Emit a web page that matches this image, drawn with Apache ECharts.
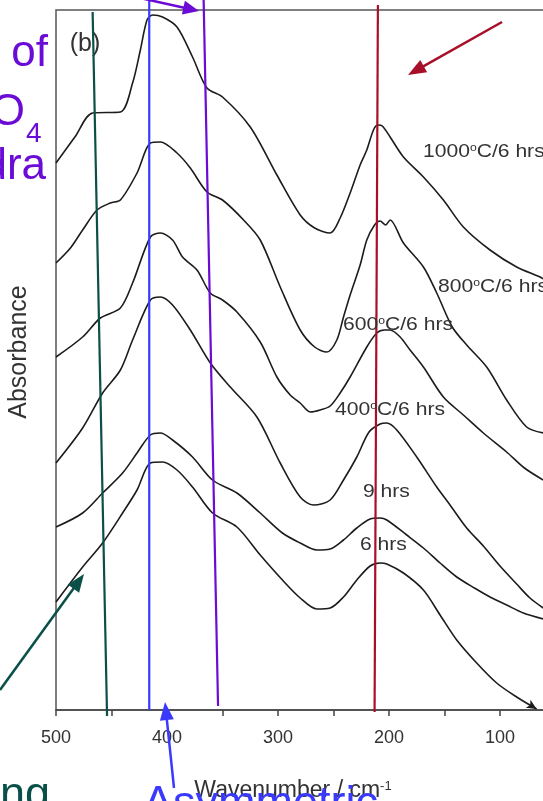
<!DOCTYPE html>
<html><head><meta charset="utf-8">
<script src="https://cdn.jsdelivr.net/npm/echarts@6/dist/echarts.min.js"></script>
<style>html,body{margin:0;padding:0;background:#fff}#c{width:543px;height:801px}</style>
</head><body><div id="c"></div>
<script>
// x ticks
const xTicks = [500, 400, 300, 200, 100];
// series (wavenumber / cm-1, absorbance in arbitrary offset units)
const names = ['1000°C/6 hrs', '800°C/6 hrs', '600°C/6 hrs', '400°C/6 hrs', '9 hrs', '6 hrs'];
const wn1 = [500,483,467,442,431,424,418,413,404,391,377,364,350,325,301,280,267,253,244,235,226,220,214,210,206,199,187,169,151,133,109,85,64,59];
const ab1 = [547,573,597,598,627,660,690,695,693,683,653,622,613,583,535,495,482,477,492,517,545,560,580,585,584,573,553,533,510,483,460,443,433,430];
const wn2 = [500,487,476,463,451,442,427,415,406,391,379,364,350,331,316,298,280,267,256,247,241,235,226,220,213,208,203,199,187,169,157,143,130,112,94,76,61];
const ab2 = [447,462,480,500,507,510,537,567,568,557,542,518,510,490,470,423,380,363,358,370,393,415,445,470,485,489,485,490,467,443,417,383,365,343,310,283,277];
const wn3 = [500,476,460,442,431,415,406,395,386,373,361,350,337,316,301,289,280,271,262,253,244,235,220,211,204,199,190,181,169,151,133,115,94,78,61];
const ab3 = [353,373,392,402,427,473,477,470,453,440,417,410,398,368,333,315,307,298,300,304,317,333,363,377,380,380,373,360,343,313,295,277,258,242,230];
const wn4 = [500,476,458,442,431,415,406,395,379,361,343,319,298,280,268,253,241,229,218,208,202,193,175,157,145,130,115,100,85,73,61];
const ab4 = [247,282,317,340,370,410,413,405,380,347,323,293,247,213,205,210,230,253,278,286,287,280,253,223,205,182,164,144,126,112,102];
const wn5 = [500,476,458,440,427,415,406,395,377,359,337,316,296,280,265,253,241,229,217,208,202,184,169,154,139,123,109,94,79,61];
const ab5 = [183,197,217,237,257,275,277,270,253,230,217,197,177,167,160,161,170,182,191,192,190,175,162,147,133,122,113,105,97,91];
const wn6 = [500,476,458,440,427,415,404,391,377,359,337,316,296,280,265,253,241,229,217,208,202,187,169,154,139,121,103,85,67];
const ab6 = [108,143,167,197,220,247,248,240,223,197,183,155,130,112,101,102,113,130,144,147,146,137,120,95,70,47,27,13,1];
// slide annotation guide lines (data units)
const guideGreen  = [[467,698],[454,-6]];
const guideBlue   = [[416,710],[416,0]];
const guidePurple = [[367,710],[354,4]];
const guideRed    = [[210,705],[213,-2]];

const F = 'Liberation Sans, Arial, sans-serif';
const zip = (a,b) => a.map((v,i)=>[v,b[i]]);
const curves = [[wn1,ab1],[wn2,ab2],[wn3,ab3],[wn4,ab4],[wn5,ab5],[wn6,ab6]];

const series = curves.map((c,i)=>{
  const data = zip(c[0],c[1]);
  if (i === 5) {
    const last = data.pop();
    data.push({value:last, symbol:'arrow', symbolSize:[7,10], symbolRotate:-121,
      itemStyle:{color:'#1c1c1c'}});
  }
  return {type:'line', name:names[i], data, showSymbol:i===5, symbol:'none', smooth:0.3,
    lineStyle:{color:'#1c1c1c', width:1.6}, z:3, silent:true};
});
const guides = [[guideGreen,'#0a5048'],[guideBlue,'#3a3aff'],[guidePurple,'#6a0bd6'],[guideRed,'#a8102a']];
guides.forEach(g=>series.push({type:'line', data:g[0], clip:false, showSymbol:false, silent:true,
  lineStyle:{color:g[1], width:2.2}, z:5}));

function arrow(x1,y1,x2,y2,color,L,W,lw){
  const dx=x2-x1, dy=y2-y1, d=Math.hypot(dx,dy), ux=dx/d, uy=dy/d;
  const bx=x2-ux*L, by=y2-uy*L;
  return [
    {type:'line', shape:{x1,y1,x2:bx+ux*2,y2:by+uy*2}, style:{stroke:color, lineWidth:lw}, z:20},
    {type:'polygon', shape:{points:[[x2,y2],[bx-uy*W,by+ux*W],[bx+uy*W,by-ux*W]]}, style:{fill:color}, z:20}
  ];
}
const lab = (t,x,y)=>({type:'text', x, y, scaleX:1.11, z:10, style:{text:t, font:'19px '+F, fill:'#333', textVerticalAlign:'middle',
  rich:{s:{fontSize:11, verticalAlign:'top', fill:'#333'}}}});

const graphic = [
  {type:'text', x:85, y:44, style:{text:'(b)', font:'25px '+F, fill:'#333', textAlign:'center', textVerticalAlign:'middle'}},
  lab('1000{s|o}C/6 hrs',423,152),
  lab('800{s|o}C/6 hrs',438,287),
  lab('600{s|o}C/6 hrs',343,325),
  lab('400{s|o}C/6 hrs',335,410),
  lab('9 hrs',363,492),
  lab('6 hrs',360,545),
  {type:'text', x:19, y:352, rotation:Math.PI/2, style:{text:'Absorbance', font:'25px '+F, fill:'#333', textAlign:'center', textVerticalAlign:'middle'}},
  {type:'text', x:293, y:791, style:{text:'Wavenumber / cm{s|-1}', font:'23px '+F, fill:'#333', textAlign:'center', textVerticalAlign:'middle',
    rich:{s:{fontSize:13, verticalAlign:'top', fill:'#333'}}}},
  // slide overlay texts
  {type:'text', x:48, y:76, style:{text:'of', font:'44px '+F, fill:'#6a0bd6', textAlign:'right', textVerticalAlign:'bottom'}},
  {type:'text', x:25, y:135, style:{text:'MoO', font:'44px '+F, fill:'#6a0bd6', textAlign:'right', textVerticalAlign:'bottom'}},
  {type:'text', x:26, y:148, style:{text:'4', font:'28px '+F, fill:'#6a0bd6', textAlign:'left', textVerticalAlign:'bottom'}},
  {type:'text', x:46, y:189, style:{text:'tetrahedra', font:'44px '+F, fill:'#6a0bd6', textAlign:'right', textVerticalAlign:'bottom'}},
  {type:'text', x:50, y:818, style:{text:'Bending', font:'45px '+F, fill:'#0a5048', textAlign:'right', textVerticalAlign:'bottom'}},
  {type:'text', x:143, y:827, style:{text:'Asymmetric', font:'45px '+F, fill:'#3a3aff', textAlign:'left', textVerticalAlign:'bottom'}},
  ...arrow(140,-2,199,11,'#6a0bd6',16,7,2.5),
  ...arrow(502,22,408,75,'#a8102a',18,7,2.5),
  ...arrow(0,690,84,574,'#0a5048',18,7,2.5),
  ...arrow(174,788,165,702,'#3a3aff',18,7,2.5)
];

const chart = echarts.init(document.getElementById('c'), null, {renderer:'canvas', width:543, height:801});
chart.setOption({
  animation:false,
  backgroundColor:'#fff',
  grid:{left:56, top:10, right:-68, bottom:91, show:true, borderColor:'#555', borderWidth:1.5,
    containLabel:false, outerBoundsMode:'none'},
  xAxis:{type:'value', inverse:true, min:0, max:500, interval:50,
    axisLine:{lineStyle:{color:'#444', width:1.5}},
    axisTick:{show:true, inside:false, length:6, lineStyle:{color:'#444', width:1.5}},
    axisLabel:{margin:19, color:'#333', fontSize:18, fontFamily:F,
      formatter:v=> xTicks.includes(v) ? String(v) : ''},
    splitLine:{show:false}},
  yAxis:{type:'value', min:0, max:700, axisLine:{show:true, lineStyle:{color:'#444', width:1.5}},
    axisTick:{show:false}, axisLabel:{show:false}, splitLine:{show:false}},
  series, graphic
});
</script></body></html>
